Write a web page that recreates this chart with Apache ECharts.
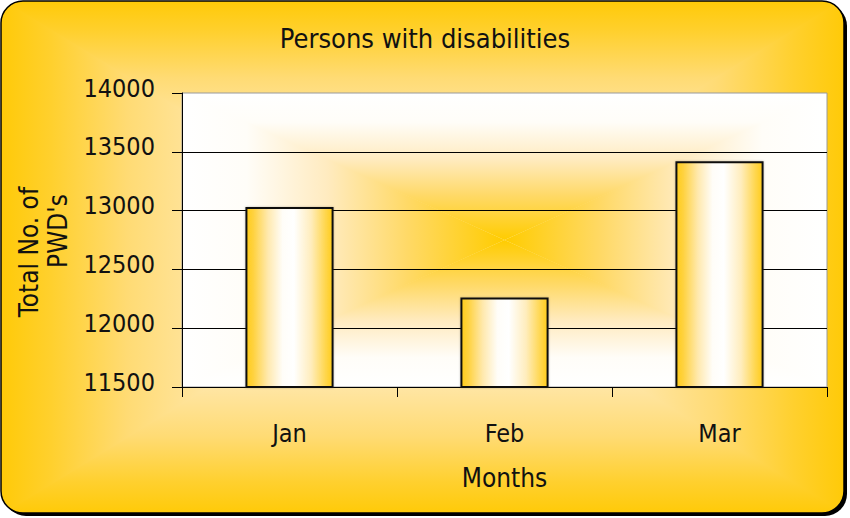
<!DOCTYPE html>
<html>
<head>
<meta charset="utf-8">
<script src="https://cdn.jsdelivr.net/npm/echarts@6/dist/echarts.min.js"></script>
<style>
  html, body { margin: 0; padding: 0; background: #ffffff; }
  #chart { width: 850px; height: 518px; }
</style>
</head>
<body>
<div id="chart"></div>
<script>
// Monthly totals of persons with disabilities
const categories = ['Jan', 'Feb', 'Mar'];
const values = [13030, 12260, 13420];
const yTickValues = [11500, 12000, 12500, 13000, 13500, 14000];

const FONT = "'DejaVu Sans Condensed', 'Liberation Sans Narrow', 'Arial Narrow', sans-serif";
const INK = '#111111';

// Layout of the frame and the plotting area
const frame = { x: 1, y: 1, w: 843, h: 512, r: 22 };
const plot = { left: 182, top: 93, right: 23, bottom: 131 };
const plotRect = {
  x: plot.left, y: plot.top,
  w: 850 - plot.left - plot.right,
  h: 518 - plot.top - plot.bottom, r: 0
};

// Outline of a (rounded) rectangle, densely sampled, clockwise from the top-left arc
function outline(b) {
  const pts = [];
  const step = 2, arcN = 16;
  const arc = (cx, cy, a0, a1) => {
    for (let i = 0; i <= arcN; i++) {
      const a = (a0 + (a1 - a0) * i / arcN) * Math.PI / 180;
      pts.push([cx + b.r * Math.cos(a), cy + b.r * Math.sin(a)]);
    }
  };
  const line = (x1, y1, x2, y2) => {
    const len = Math.hypot(x2 - x1, y2 - y1);
    const n = Math.max(1, Math.ceil(len / step));
    for (let i = 1; i < n; i++) pts.push([x1 + (x2 - x1) * i / n, y1 + (y2 - y1) * i / n]);
  };
  const { x, y, w, h, r } = b;
  arc(x + r, y + r, 180, 270);
  line(x + r, y, x + w - r, y);
  arc(x + w - r, y + r, 270, 360);
  line(x + w, y + r, x + w, y + h - r);
  arc(x + w - r, y + h - r, 0, 90);
  line(x + w - r, y + h, x + r, y + h);
  arc(x + r, y + h - r, 90, 180);
  line(x, y + h - r, x, y + r);
  return pts;
}

// Rectangular "from centre" gradient built from four wedges, one per side
function rectGradient(b, stops, z) {
  const cx = b.x + b.w / 2, cy = b.y + b.h / 2;
  const pts = outline(b);
  const N = pts.length;
  const sides = pts.map(([px, py]) => {
    const dx = (px - cx) / (b.w / 2), dy = (py - cy) / (b.h / 2);
    if (Math.abs(dy) >= Math.abs(dx)) return dy < 0 ? 'top' : 'bottom';
    return dx < 0 ? 'left' : 'right';
  });
  const grads = {
    top:    { x: 0, y: b.y, x2: 0, y2: cy },
    bottom: { x: 0, y: b.y + b.h, x2: 0, y2: cy },
    left:   { x: b.x, y: 0, x2: cx, y2: 0 },
    right:  { x: b.x + b.w, y: 0, x2: cx, y2: 0 }
  };
  const colorStops = stops.map(([o, c]) => ({ offset: o, color: c }));
  const out = [];
  ['top', 'right', 'bottom', 'left'].forEach(s => {
    let k = 0;
    while (!(sides[k] === s && sides[(k - 1 + N) % N] !== s)) k++;
    const poly = [[cx, cy], pts[(k - 1 + N) % N]];
    let i = k;
    while (sides[i % N] === s) { poly.push(pts[i % N]); i++; }
    poly.push(pts[i % N]);
    out.push({
      type: 'polygon', silent: true, z: z,
      shape: { points: poly },
      style: {
        fill: Object.assign({ type: 'linear', global: true, colorStops }, grads[s]),
        stroke: null
      }
    });
  });
  return out;
}

const frameStops = [[0, '#FFCA08'], [0.12, '#FFD02E'], [0.3, '#FFDB74'], [0.5, '#FFE6A6'], [1, '#FFF2D2']];
const plotStops = [[0, '#FFFFFF'], [0.2, '#FFFDF8'], [0.45, '#FFEBC0'], [0.7, '#FFD966'], [1, '#FFCC00']];

const graphics = [
  // drop shadow of the frame
  { type: 'rect', silent: true, z: -40,
    shape: { x: frame.x + 3, y: frame.y + 3, width: frame.w, height: frame.h, r: frame.r },
    style: { fill: '#000000' } },
  // base fill under the gradient wedges
  { type: 'rect', silent: true, z: -39,
    shape: { x: frame.x, y: frame.y, width: frame.w, height: frame.h, r: frame.r },
    style: { fill: '#FFDB74' } },
  ...rectGradient(frame, frameStops, -38),
  { type: 'rect', silent: true, z: -21,
    shape: { x: plotRect.x, y: plotRect.y, width: plotRect.w, height: plotRect.h },
    style: { fill: '#FFF4DA' } },
  ...rectGradient(plotRect, plotStops, -20),
  // frame outline
  { type: 'rect', silent: true, z: 100,
    shape: { x: frame.x, y: frame.y, width: frame.w, height: frame.h, r: frame.r },
    style: { fill: null, stroke: '#000000', lineWidth: 1.5 } }
];

const barFill = {
  type: 'linear', x: 0, y: 0, x2: 1, y2: 0,
  colorStops: [
    { offset: 0, color: '#FFCC1A' },
    { offset: 0.08, color: '#FFD23F' },
    { offset: 0.25, color: '#FFE9AE' },
    { offset: 0.42, color: '#FFFDF8' },
    { offset: 0.55, color: '#FFFFFF' },
    { offset: 0.75, color: '#FFEDBD' },
    { offset: 0.92, color: '#FFD64C' },
    { offset: 1, color: '#FFCC1A' }
  ]
};

const chart = echarts.init(document.getElementById('chart'), null, { renderer: 'svg' });
chart.setOption({
  backgroundColor: 'transparent',
  animation: false,
  graphic: graphics,
  title: {
    text: 'Persons with disabilities',
    left: 'center',
    top: 20,
    textStyle: { fontFamily: FONT, fontSize: 27, fontWeight: 'normal', color: INK }
  },
  grid: {
    left: plot.left, top: plot.top, right: plot.right, bottom: plot.bottom,
    outerBoundsMode: 'none',
    show: true, borderColor: '#9A9A9A', borderWidth: 1, backgroundColor: 'transparent'
  },
  xAxis: {
    type: 'category',
    data: categories,
    name: 'Months',
    nameLocation: 'middle',
    nameGap: 78,
    nameTextStyle: { fontFamily: FONT, fontSize: 26, color: INK },
    axisLine: { lineStyle: { color: '#000000', width: 1 } },
    axisTick: { show: true, length: 10, lineStyle: { color: '#000000' } },
    axisLabel: { margin: 34, fontFamily: FONT, fontSize: 25, color: INK }
  },
  yAxis: {
    type: 'value',
    min: yTickValues[0],
    max: yTickValues[yTickValues.length - 1],
    interval: yTickValues[1] - yTickValues[0],
    name: '{a|Total No. of}\n{b|PWD\'s}',
    nameLocation: 'middle',
    nameRotate: 90,
    nameGap: 95,
    nameTextStyle: {
      fontFamily: FONT, fontSize: 26, color: INK, lineHeight: 29,
      rich: {
        a: { fontFamily: FONT, fontSize: 26, color: INK, lineHeight: 29, padding: [0, 24, 0, 0] },
        b: { fontFamily: FONT, fontSize: 26, color: INK, lineHeight: 29, padding: [0, 0, 0, 18] }
      }
    },
    axisLine: { show: true, lineStyle: { color: '#000000', width: 1 } },
    axisTick: { show: true, length: 10, lineStyle: { color: '#000000' } },
    axisLabel: {
      margin: 27, fontFamily: FONT, fontSize: 25, color: INK,
      verticalAlign: 'bottom', lineHeight: 10,
      formatter: v => String(v)
    },
    splitLine: { show: true, showMaxLine: false, lineStyle: { color: '#000000', width: 1 } }
  },
  series: [{
    type: 'bar',
    data: values,
    barWidth: '41%',
    itemStyle: {
      color: barFill,
      borderColor: '#111111',
      borderWidth: 2,
      shadowColor: 'rgba(0,0,0,0.25)',
      shadowBlur: 2
    }
  }]
});
</script>
</body>
</html>
